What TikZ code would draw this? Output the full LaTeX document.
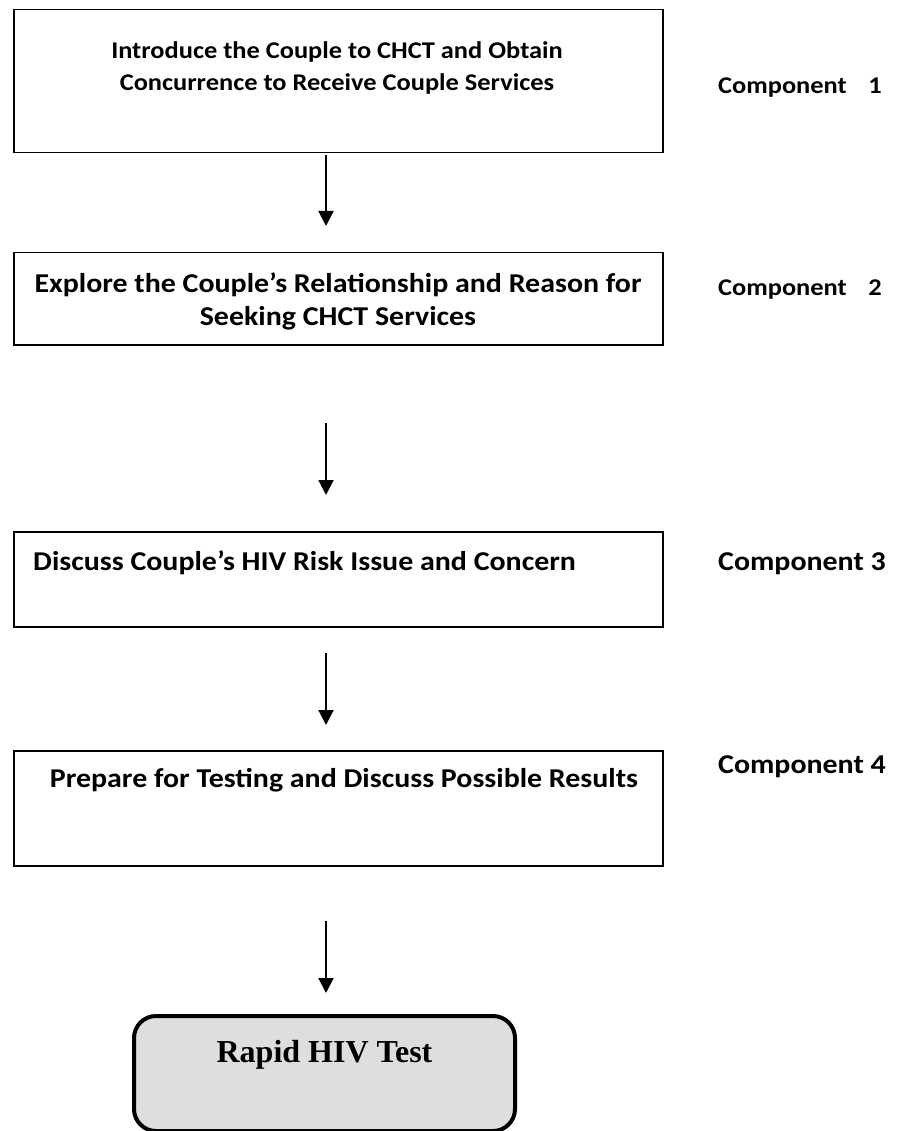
\documentclass[tikz,border=0pt]{standalone}
\usepackage{fontspec}
\setmainfont{Carlito}
\newfontfamily\stagefont{Carlito}[FakeStretch=1.1]
\newfontfamily\testfont{Liberation Serif}
\usetikzlibrary{arrows.meta}
\definecolor{testgray}{RGB}{222,222,222}
\begin{document}
\begin{tikzpicture}[x=1pt,y=-1pt,
  stagebox/.style={draw,line width=1.5pt,minimum width=649pt,inner sep=0pt,anchor=north west},
  stagetext/.style={font=\stagefont\bfseries\fontsize{27.2}{31}\selectfont,inner sep=0pt,anchor=base},
  smalltext/.style={font=\stagefont\bfseries\fontsize{24}{31}\selectfont,inner sep=0pt,anchor=base},
  comptext/.style={font=\stagefont\bfseries\fontsize{27.2}{31}\selectfont,inner sep=0pt,anchor=base west},
  smallcomp/.style={font=\stagefont\bfseries\fontsize{24}{31}\selectfont,inner sep=0pt,anchor=base west},
  flow/.style={line width=2pt,-{Triangle[width=15pt,length=15pt]}},
  testbox/.style={draw,line width=4pt,rounded corners=22pt,fill=testgray,inner sep=0pt,
    minimum width=381pt,text height=46pt,text depth=69pt,anchor=north,
    font=\testfont\bfseries\fontsize{32}{38}\selectfont}]
\useasboundingbox (0,0) rectangle (899,1131);

% stage boxes
\node[stagebox,minimum height=143pt] (b1) at (13,9) {};
\node[stagebox,minimum height=92pt]  (b2) at (13,252) {};
\node[stagebox,minimum height=95pt]  (b3) at (13,531) {};
\node[stagebox,minimum height=115pt] (b4) at (13,750) {};

% stage texts
\node[smalltext] (t1a) at (337,59) {Introduce the Couple to CHCT and Obtain};
\node[smalltext] (t1b) at (337,91) {Concurrence to Receive Couple Services};
\node[stagetext] (t2a) at (338,293) {Explore the Couple’s Relationship and Reason for};
\node[stagetext] (t2b) at (338,325) {Seeking CHCT Services};
\node[stagetext,anchor=base west] (t3) at (33,570) {Discuss Couple’s HIV Risk Issue and Concern};
\node[stagetext] (t4) at (344,787) {Prepare for Testing and Discuss Possible Results};

% component labels
\node[smallcomp] (c1) at (718,94) {Component\hspace{0.9em}1};
\node[smallcomp] (c2) at (718,295) {Component\hspace{0.9em}2};
\node[comptext] (c3) at (718,570) {Component 3};
\node[comptext] (c4) at (718,773) {Component 4};

% final test box
\clip (0,0) rectangle (899,1131);
\node[testbox] (test) at (324.5,1014) {Rapid HIV Test};

% arrows between stages
\coordinate (a1s) at (326,155); \coordinate (a1e) at (326,226);
\coordinate (a2s) at (326,423); \coordinate (a2e) at (326,495);
\coordinate (a3s) at (326,653); \coordinate (a3e) at (326,725);
\coordinate (a4s) at (326,921); \coordinate (a4e) at (326,993);
\draw[flow] (a1s) -- (a1e);
\draw[flow] (a2s) -- (a2e);
\draw[flow] (a3s) -- (a3e);
\draw[flow] (a4s) -- (a4e);
\end{tikzpicture}
\end{document}
